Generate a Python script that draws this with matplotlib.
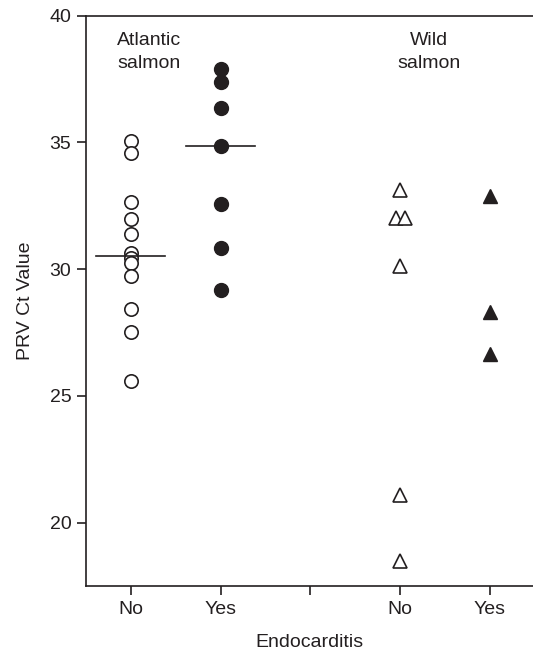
import numpy as np
import matplotlib
matplotlib.use("Agg")
import matplotlib.pyplot as plt

plt.rcParams['font.family'] = ['Liberation Sans', 'DejaVu Sans']

# PRV Ct values per group
atl_no = [35.04, 34.58, 32.65, 31.96, 31.39, 30.62, 30.45, 30.25, 29.72, 28.44, 27.52, 25.6]
atl_yes = [37.9, 37.38, 36.35, 34.85, 32.56, 30.85, 29.17]
wild_no = [33.14, 32.02, 32.02, 30.12, 21.1, 18.5]
wild_no_x = [4.0, 3.95, 4.05, 4.0, 4.0, 4.0]
wild_yes = [32.89, 28.31, 26.65]

tick_pos = [1, 2, 3, 4, 5]
tick_labels = ['No', 'Yes', '', 'No', 'Yes']

ink = '#231f20'
fs = 14

fig = plt.figure(figsize=(5.33, 6.54), dpi=100)
ax = fig.add_axes([0.1614, 0.104, 0.8386, 0.872])

ax.plot([1] * len(atl_no), atl_no, 'o', ms=9.6, mfc='white', mec=ink, mew=1.2, ls='None')
ax.plot([2] * len(atl_yes), atl_yes, 'o', ms=10, mfc=ink, mec=ink, mew=1.0, ls='None')
ax.plot(wild_no_x, wild_no, '^', ms=10, mfc='white', mec=ink, mew=1.2, ls='None')
ax.plot([5] * len(wild_yes), wild_yes, '^', ms=10, mfc=ink, mec=ink, mew=1.0, ls='None')

# median lines for the farmed fish
for xc, vals in [(1, atl_no), (2, atl_yes)]:
    m = np.median(vals)
    ax.plot([xc - 0.385, xc + 0.385], [m, m], color=ink, lw=1.2)

ax.text(1.2, 39.35, 'Atlantic\nsalmon', ha='center', va='top', fontsize=fs, color=ink, linespacing=1.45)
ax.text(4.32, 39.35, 'Wild\nsalmon', ha='center', va='top', fontsize=fs, color=ink, linespacing=1.45)

ax.set_xlim(0.5, 5.48)
ax.set_ylim(17.5, 40)
ax.set_yticks([20, 25, 30, 35, 40])
ax.set_xticks(tick_pos)
ax.set_xticklabels(tick_labels)

ax.spines['right'].set_visible(False)
for s in ['left', 'bottom', 'top']:
    ax.spines[s].set_color(ink)
    ax.spines[s].set_linewidth(1.2)

ax.tick_params(direction='out', length=6.5, width=1.2, color=ink, labelsize=fs,
               labelcolor=ink, pad=4)

ax.set_ylabel('PRV Ct Value', fontsize=fs, color=ink, labelpad=11)
ax.set_xlabel('Endocarditis', fontsize=fs, color=ink, labelpad=12)

fig.savefig('out.png', dpi=100)
